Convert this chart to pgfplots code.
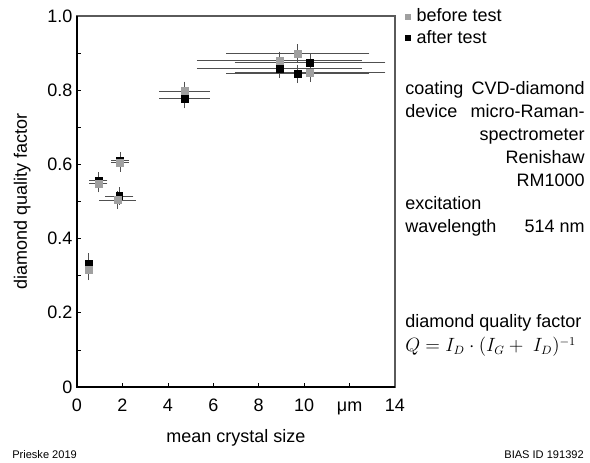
\documentclass[border=0pt]{standalone}
\usepackage{fontspec}
\setmainfont{Liberation Sans}
\usepackage{pgfplots}
\pgfplotsset{compat=1.18}

\definecolor{beforegray}{RGB}{160,160,160}
\definecolor{errgray}{RGB}{80,80,80}
\definecolor{framegray}{RGB}{90,90,90}

% before test: x, y, x error, y error
\pgfplotstableread{
x     y      ex    ey
0.50  0.315  0     0.020
0.94  0.548  0.28  0.016
1.78  0.504  0.68  0.016
1.89  0.605  0.26  0.018
4.73  0.798  0.99  0.018
8.91  0.879  3.51  0.018
9.72  0.898  3.03  0.018
10.26 0.847  3.20  0.018
}\before
% after test
\pgfplotstableread{
x     y      ex    ey
0.50  0.333  0     0.020
0.94  0.556  0.28  0.016
1.86  0.515  0.50  0.016
1.89  0.610  0.26  0.016
4.73  0.778  0.99  0.020
8.91  0.859  3.51  0.018
9.72  0.844  3.03  0.018
10.26 0.875  3.20  0.018
}\after

\begin{document}
\begin{tikzpicture}[font=\fontsize{13.5}{16}\selectfont]
\begin{axis}[
  at={(0,0)}, anchor=south west,
  scale only axis, width=238.5pt, height=278.25pt,
  xmin=0, xmax=14, ymin=0, ymax=1,
  xtick={0,2,4,6,8,10,12,14},
  xticklabels={0,2,4,6,8,10,μm,14},
  ytick={0,0.2,0.4,0.6,0.8,1.0},
  yticklabels={0,0.2,0.4,0.6,0.8,1.0},
  minor ytick={0.1,0.3,0.5,0.7,0.9},
  tick align=inside, xtick pos=bottom, ytick pos=left,
  major tick length=3pt, minor tick length=3pt,
  axis line style={framegray, line width=0.8pt},
  tick style={black, line width=0.5pt},
  xticklabel style={yshift=-5pt, text height=9.7pt, text depth=0pt},
  xlabel={mean crystal size},
  ylabel={diamond quality factor},
  xlabel style={at={(axis description cs:0.5,0)}, anchor=center, yshift=-38pt},
  ylabel style={at={(axis description cs:0,0.5)}, anchor=center, yshift=41pt},
  reverse legend,
  legend cell align=left,
  legend style={at={(1.03,1.027)}, anchor=north west, draw=none, fill=none,
    inner sep=0pt, row sep=1pt, column sep=3pt,
    font=\fontsize{13.5}{16}\selectfont,
    nodes={inner sep=2pt}},
  legend image code/.code={\draw[#1, mark size=1.9pt] plot coordinates {(0pt,0pt)};},
  clip=false,
]
% left and bottom axis lines in black
\draw[black, line width=0.8pt] (rel axis cs:0,1) -- (rel axis cs:0,0) -- (rel axis cs:1,0);
\addplot[only marks, mark=square*, mark size=2.6pt,
  mark options={draw=black, fill=black},
  error bars/.cd, x dir=both, x explicit, y dir=both, y explicit,
  error bar style={errgray, line width=0.6pt},
  error mark options={errgray, line width=0.6pt, mark size=2pt}]
  table[x=x, y=y, x error=ex, y error=ey] {\after};
\addlegendentry{after test}
\addplot[only marks, mark=square*, mark size=2.6pt,
  mark options={draw=beforegray, fill=beforegray},
  error bars/.cd, x dir=both, x explicit, y dir=both, y explicit,
  error bar style={errgray, line width=0.6pt},
  error mark options={errgray, line width=0.6pt, mark size=2pt}]
  table[x=x, y=y, x error=ex, y error=ey] {\before};
\addlegendentry{before test}
\end{axis}

% annotations, laid out on a 590 x 463 grid with the axis corner at (77,387)
\begin{scope}[x=0.75pt, y=-0.75pt, shift={(-77,-387)}]
  \path (0,0) rectangle (590,463);
  \node[anchor=base west, inner sep=0] at (405,95) {coating};
  \node[anchor=base east, inner sep=0] at (585,95) {CVD-diamond};
  \node[anchor=base west, inner sep=0] at (405,118) {device};
  \node[anchor=base east, inner sep=0] at (585,118) {micro-Raman-};
  \node[anchor=base east, inner sep=0] at (585,141) {spectrometer};
  \node[anchor=base east, inner sep=0] at (585,164) {Renishaw};
  \node[anchor=base east, inner sep=0] at (585,187) {RM1000};
  \node[anchor=base west, inner sep=0] at (405,210) {excitation};
  \node[anchor=base west, inner sep=0] at (405,233) {wavelength};
  \node[anchor=base east, inner sep=0] at (585,233) {514 nm};
  \node[anchor=base west, inner sep=0] at (405,328) {diamond quality factor};
  \node[anchor=base west, inner sep=0] at (405,352) {$Q = I_D \cdot (I_G +\ I_D)^{-1}$};
  \node[anchor=base west, inner sep=0, font=\fontsize{8.3}{10}\selectfont] at (12,459) {Prieske 2019};
  \node[anchor=base east, inner sep=0, font=\fontsize{8.3}{10}\selectfont] at (584,459) {BIAS ID 191392};
\end{scope}
\end{tikzpicture}
\end{document}
